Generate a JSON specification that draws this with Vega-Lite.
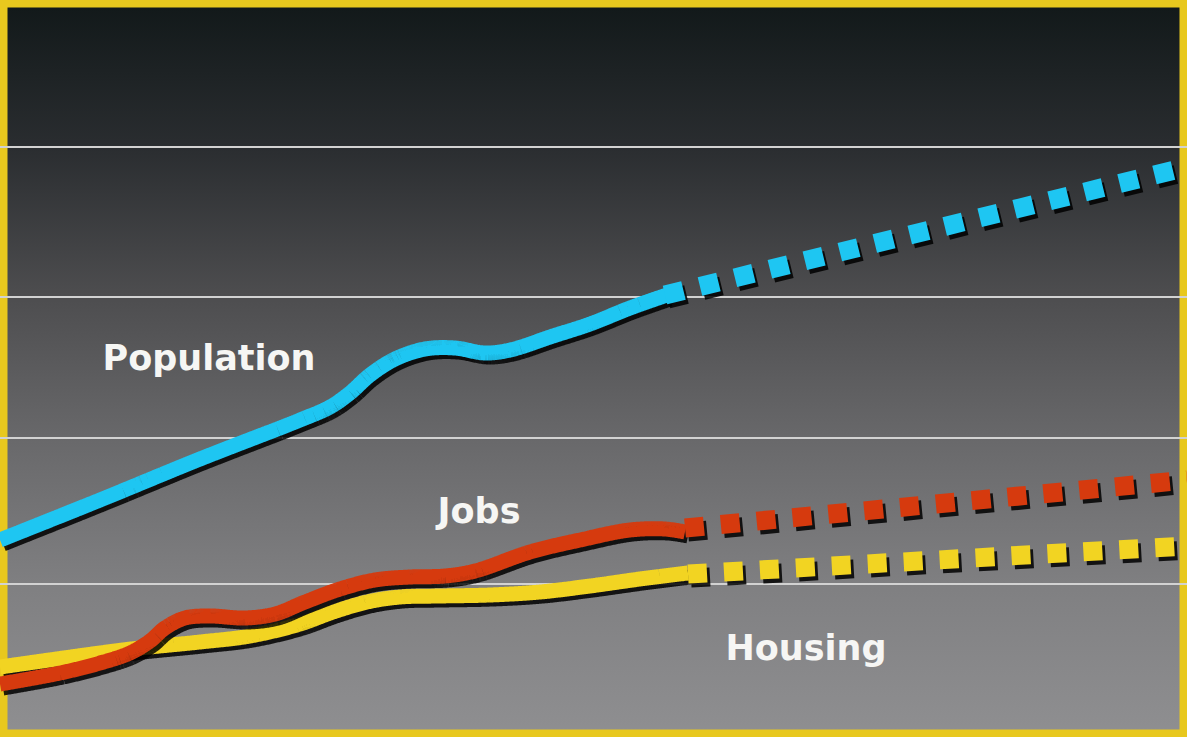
{
  "$schema": "https://vega.github.io/schema/vega-lite/v6.json",
  "width": 1187,
  "height": 737,
  "autosize": "none",
  "padding": 0,
  "background": "#8e8e90",
  "config": {
    "view": {
      "stroke": "#e8c81e",
      "strokeWidth": 15,
      "fill": {
        "gradient": "linear",
        "x1": 0, "y1": 0, "x2": 0, "y2": 1,
        "stops": [
          {"offset": 0, "color": "#111819"},
          {"offset": 0.2, "color": "#2a2d30"},
          {"offset": 0.4, "color": "#4d4d4f"},
          {"offset": 0.6, "color": "#69696b"},
          {"offset": 0.8, "color": "#808082"},
          {"offset": 1, "color": "#8f8f91"}
        ]
      }
    }
  },
  "datasets": {
    "lines": [
      {"series": "Housing", "kind": "actual", "t": 0, "v": 70},
      {"series": "Housing", "kind": "actual", "t": 100, "v": 84},
      {"series": "Housing", "kind": "actual", "t": 140, "v": 89},
      {"series": "Housing", "kind": "actual", "t": 200, "v": 95},
      {"series": "Housing", "kind": "actual", "t": 250, "v": 101},
      {"series": "Housing", "kind": "actual", "t": 300, "v": 113},
      {"series": "Housing", "kind": "actual", "t": 333, "v": 125},
      {"series": "Housing", "kind": "actual", "t": 367, "v": 135},
      {"series": "Housing", "kind": "actual", "t": 400, "v": 140},
      {"series": "Housing", "kind": "actual", "t": 440, "v": 141},
      {"series": "Housing", "kind": "actual", "t": 490, "v": 142},
      {"series": "Housing", "kind": "actual", "t": 540, "v": 145},
      {"series": "Housing", "kind": "actual", "t": 590, "v": 151},
      {"series": "Housing", "kind": "actual", "t": 640, "v": 158},
      {"series": "Housing", "kind": "actual", "t": 688, "v": 164},
      {"series": "Housing", "kind": "projected", "t": 688, "v": 163},
      {"series": "Housing", "kind": "projected", "t": 1187, "v": 191},
      {"series": "Jobs", "kind": "actual", "t": 0, "v": 53},
      {"series": "Jobs", "kind": "actual", "t": 60, "v": 64},
      {"series": "Jobs", "kind": "actual", "t": 100, "v": 74},
      {"series": "Jobs", "kind": "actual", "t": 130, "v": 84},
      {"series": "Jobs", "kind": "actual", "t": 150, "v": 96},
      {"series": "Jobs", "kind": "actual", "t": 165, "v": 109},
      {"series": "Jobs", "kind": "actual", "t": 185, "v": 119},
      {"series": "Jobs", "kind": "actual", "t": 210, "v": 121},
      {"series": "Jobs", "kind": "actual", "t": 245, "v": 119},
      {"series": "Jobs", "kind": "actual", "t": 275, "v": 123},
      {"series": "Jobs", "kind": "actual", "t": 305, "v": 135},
      {"series": "Jobs", "kind": "actual", "t": 340, "v": 148},
      {"series": "Jobs", "kind": "actual", "t": 375, "v": 157},
      {"series": "Jobs", "kind": "actual", "t": 410, "v": 160},
      {"series": "Jobs", "kind": "actual", "t": 445, "v": 161},
      {"series": "Jobs", "kind": "actual", "t": 475, "v": 166},
      {"series": "Jobs", "kind": "actual", "t": 530, "v": 185},
      {"series": "Jobs", "kind": "actual", "t": 580, "v": 197},
      {"series": "Jobs", "kind": "actual", "t": 630, "v": 207},
      {"series": "Jobs", "kind": "actual", "t": 665, "v": 208},
      {"series": "Jobs", "kind": "actual", "t": 685, "v": 205},
      {"series": "Jobs", "kind": "projected", "t": 685, "v": 209},
      {"series": "Jobs", "kind": "projected", "t": 1187, "v": 257},
      {"series": "Population", "kind": "actual", "t": 0, "v": 197},
      {"series": "Population", "kind": "actual", "t": 100, "v": 237},
      {"series": "Population", "kind": "actual", "t": 200, "v": 278},
      {"series": "Population", "kind": "actual", "t": 300, "v": 317},
      {"series": "Population", "kind": "actual", "t": 330, "v": 330},
      {"series": "Population", "kind": "actual", "t": 350, "v": 344},
      {"series": "Population", "kind": "actual", "t": 370, "v": 362},
      {"series": "Population", "kind": "actual", "t": 395, "v": 378},
      {"series": "Population", "kind": "actual", "t": 425, "v": 388},
      {"series": "Population", "kind": "actual", "t": 455, "v": 389},
      {"series": "Population", "kind": "actual", "t": 485, "v": 384},
      {"series": "Population", "kind": "actual", "t": 510, "v": 387},
      {"series": "Population", "kind": "actual", "t": 553, "v": 401},
      {"series": "Population", "kind": "actual", "t": 590, "v": 413},
      {"series": "Population", "kind": "actual", "t": 630, "v": 429},
      {"series": "Population", "kind": "actual", "t": 667, "v": 442},
      {"series": "Population", "kind": "projected", "t": 665, "v": 442},
      {"series": "Population", "kind": "projected", "t": 1187, "v": 570}
    ],
    "grid": [{"v": 590}, {"v": 440}, {"v": 299}, {"v": 153}],
    "labels": [
      {"label": "Population", "t": 209, "v": 367},
      {"label": "Jobs", "t": 479, "v": 214},
      {"label": "Housing", "t": 806, "v": 77}
    ]
  },
  "encoding": {
    "x": {"field": "t", "type": "quantitative", "axis": null, "scale": {"domain": [0, 1187], "nice": false, "zero": false}},
    "y": {"field": "v", "type": "quantitative", "axis": null, "scale": {"domain": [0, 737], "nice": false, "zero": false}}
  },
  "layer": [
    {
      "data": {"name": "grid"},
      "mark": {"type": "rule", "color": "#d2d2d2", "strokeWidth": 2},
      "encoding": {"x": null}
    },
    {
      "data": {"name": "lines"},
      "transform": [{"filter": "datum.series === 'Housing'"}],
      "mark": {"type": "line", "interpolate": "catmull-rom", "strokeCap": "butt", "color": "#000000", "opacity": 0.85, "xOffset": 3, "yOffset": 4},
      "encoding": {
        "strokeDash": {"field": "kind", "type": "nominal", "legend": null, "scale": {"domain": ["actual", "projected"], "range": [[1, 0], [19, 17]]}},
        "strokeWidth": {"field": "kind", "type": "ordinal", "legend": null, "scale": {"domain": ["actual", "projected"], "range": [15, 19]}}
      }
    },
    {
      "data": {"name": "lines"},
      "transform": [{"filter": "datum.series === 'Housing'"}],
      "mark": {"type": "line", "interpolate": "catmull-rom", "strokeCap": "butt", "color": "#f2d422"},
      "encoding": {
        "strokeDash": {"field": "kind", "type": "nominal", "legend": null, "scale": {"domain": ["actual", "projected"], "range": [[1, 0], [19, 17]]}},
        "strokeWidth": {"field": "kind", "type": "ordinal", "legend": null, "scale": {"domain": ["actual", "projected"], "range": [15, 19]}}
      }
    },
    {
      "data": {"name": "lines"},
      "transform": [{"filter": "datum.series === 'Jobs'"}],
      "mark": {"type": "line", "interpolate": "catmull-rom", "strokeCap": "butt", "color": "#000000", "opacity": 0.85, "xOffset": 3, "yOffset": 4},
      "encoding": {
        "strokeDash": {"field": "kind", "type": "nominal", "legend": null, "scale": {"domain": ["actual", "projected"], "range": [[1, 0], [19, 17]]}},
        "strokeWidth": {"field": "kind", "type": "ordinal", "legend": null, "scale": {"domain": ["actual", "projected"], "range": [15, 19]}}
      }
    },
    {
      "data": {"name": "lines"},
      "transform": [{"filter": "datum.series === 'Jobs'"}],
      "mark": {"type": "line", "interpolate": "catmull-rom", "strokeCap": "butt", "color": "#d63a0e"},
      "encoding": {
        "strokeDash": {"field": "kind", "type": "nominal", "legend": null, "scale": {"domain": ["actual", "projected"], "range": [[1, 0], [19, 17]]}},
        "strokeWidth": {"field": "kind", "type": "ordinal", "legend": null, "scale": {"domain": ["actual", "projected"], "range": [15, 19]}}
      }
    },
    {
      "data": {"name": "lines"},
      "transform": [{"filter": "datum.series === 'Population'"}],
      "mark": {"type": "line", "interpolate": "catmull-rom", "strokeCap": "butt", "color": "#000000", "opacity": 0.85, "xOffset": 3, "yOffset": 4},
      "encoding": {
        "strokeDash": {"field": "kind", "type": "nominal", "legend": null, "scale": {"domain": ["actual", "projected"], "range": [[1, 0], [19, 17]]}},
        "strokeWidth": {"field": "kind", "type": "ordinal", "legend": null, "scale": {"domain": ["actual", "projected"], "range": [15, 19]}}
      }
    },
    {
      "data": {"name": "lines"},
      "transform": [{"filter": "datum.series === 'Population'"}],
      "mark": {"type": "line", "interpolate": "catmull-rom", "strokeCap": "butt", "color": "#1ec6f2"},
      "encoding": {
        "strokeDash": {"field": "kind", "type": "nominal", "legend": null, "scale": {"domain": ["actual", "projected"], "range": [[1, 0], [19, 17]]}},
        "strokeWidth": {"field": "kind", "type": "ordinal", "legend": null, "scale": {"domain": ["actual", "projected"], "range": [15, 19]}}
      }
    },
    {
      "data": {"name": "labels"},
      "mark": {"type": "text", "font": "DejaVu Sans", "fontWeight": "bold", "fontSize": 35, "align": "center", "baseline": "alphabetic", "color": "#f6f6f4"},
      "encoding": {"text": {"field": "label"}}
    }
  ]
}
